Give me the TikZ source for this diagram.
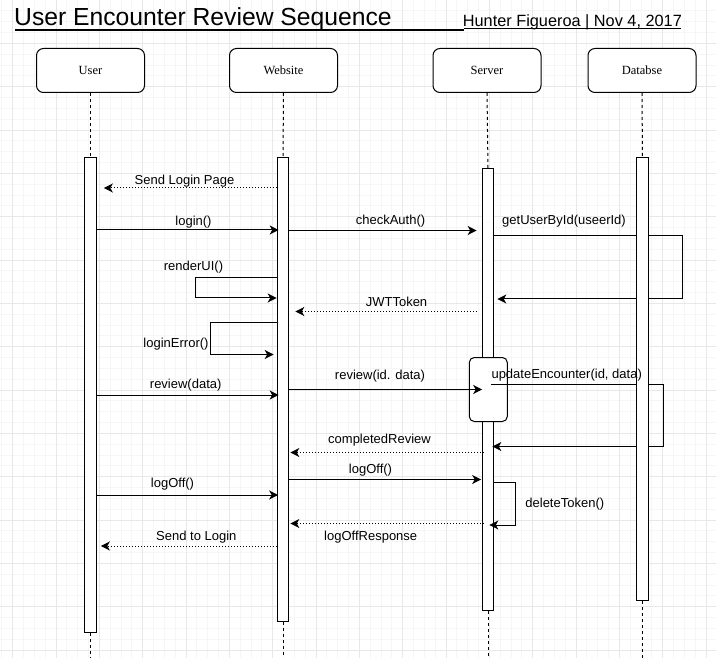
\documentclass[tikz,border=0pt]{standalone}
\usepackage{fontspec}
\setmainfont{Liberation Sans}
\newfontfamily\headfont{Liberation Serif}
\usepackage{tikz}
\usetikzlibrary{arrows.meta,positioning,calc}
\definecolor{gridminor}{RGB}{246,246,246}
\definecolor{gridmajor}{RGB}{232,232,232}

\begin{document}
\begin{tikzpicture}[
    x=1pt, y=-1pt,
    minorline/.style={draw=gridminor, line width=0.8pt},
    majorline/.style={draw=gridmajor, line width=0.8pt},
    actor/.style={rectangle, draw, rounded corners=7pt, minimum width=108pt, minimum height=44pt, fill=white, line width=1pt, font=\headfont\fontsize{12.5}{14}\selectfont},
    bar/.style={rectangle, draw, fill=white, minimum width=11.5pt, inner sep=0pt, line width=1.1pt, anchor=north},
    life/.style={line width=1pt, dash pattern=on 3pt off 3pt},
    msg/.style={-{Stealth[length=9pt,width=9pt,inset=2.5pt]}, line width=1pt},
    reply/.style={msg, dash pattern=on 1pt off 2pt},
    lbl/.style={font=\fontsize{13}{15}\selectfont, anchor=base, inner sep=0pt}
]
\useasboundingbox (0,0) rectangle (716,658);
\foreach \i in {0,...,65} {\draw[minorline] ({1.87+\i*10.833},0) -- ++(0,658);}
\foreach \i in {1,...,60} {\draw[minorline] (0,{\i*10.833}) -- ++(716,0);}
\foreach \i in {0,...,16} {\draw[majorline] ({12.7+\i*43.333},0) -- ++(0,658);}
\foreach \i in {1,...,15} {\draw[majorline] (0,{\i*43.333}) -- ++(716,0);}

\node[anchor=base west, inner sep=0pt, font=\fontsize{24.7}{28}\selectfont] (title) at (14,26) {User Encounter Review Sequence};
\node[anchor=base west, inner sep=0pt, font=\fontsize{16.3}{19}\selectfont] (sub) at (462.7,26.7) {Hunter Figueroa | Nov 4, 2017};
\draw[line width=1.6pt] (title.base west -| 15,0) ++(0,3.8) -- (464,29.8);
\draw[line width=1pt] (sub.base west -| 464,0) ++(0,2.1) -- (681,28.8);

\node[actor] (user) at (90.5,70.5) {User};
\node[actor] (web) at (283.5,70.5) {Website};
\node[actor] (srv) at (487,70.5) {Server};
\node[actor] (db) at (642,70.5) {Databse};

\node[bar, minimum height=475pt] (userbar) at (90.5,157) {};
\node[bar, minimum height=464pt] (webbar) at (283,157) {};
\node[bar, minimum height=442pt] (srvbar) at (488,168) {};

\draw[life] (user.south) -- (userbar.north);
\draw[life] (userbar.south) -- (userbar.south |- 0,658);
\draw[life] (web.south) -- (webbar.north);
\draw[life] (webbar.south) -- (webbar.south |- 0,658);
\draw[life] (srv.south) -- (srvbar.north);
\draw[life] (srvbar.south) -- (srvbar.south |- 0,658);

\node[rectangle, draw, fill=white, rounded corners=5pt, line width=1pt, minimum width=38pt, minimum height=64pt] (srvact) at (488.3,389.5) {};

\draw[msg] (srvbar.east |- 0,236) -- ++(188.5,0) |- ($(srvbar.east |- 0,299)+(3,0)$);
\draw[msg] ($(srvbar.east |- 0,384.5)+(-3,0)$) -- ++(172.5,0) |- ($(srvbar.east |- 0,446.5)+(-2,0)$);

\node[bar, minimum height=443pt] (dbbar) at (642.5,157) {};
\draw[life] (db.south) -- (dbbar.north);
\draw[life] (dbbar.south) -- (dbbar.south |- 0,658);

\node[lbl] (lgetuser) at (564,225) {getUserById(useerId)};
\node[lbl] (lupdate) at (566.7,378.5) {updateEncounter(id, data)};

\draw[reply] (webbar.west |- 0,188) -- ($(userbar.east |- 0,188)+(7,0)$);
\node[lbl] (lsendpage) at (184.5,185) {Send Login Page};

\draw[msg] (userbar.east |- 0,230) -- ($(webbar.west |- 0,230)+(2,0)$);
\node[lbl] (llogin) at (193.5,225.5) {login()};

\draw[msg] (webbar.east |- 0,230.5) -- ($(srvbar.west |- 0,230.5)+(-5,0)$);
\node[lbl] (lcheck) at (390.5,225) {checkAuth()};

\draw[msg] (webbar.west |- 0,277.5) -- ++(-81,0) |- (webbar.west |- 0,298);
\node[lbl] (lrender) at (193.5,271) {renderUI()};

\draw[reply] ($(srvbar.west |- 0,311.5)+(-5,0)$) -- ($(webbar.east |- 0,311.5)+(6,0)$);
\node[lbl] (ljwt) at (396.5,306.5) {JWTToken};

\draw[msg] (webbar.west |- 0,322.5) -- ++(-66.7,0) |- ($(webbar.west |- 0,354.5)+(-3,0)$);
\node[lbl] (lerror) at (176,347.5) {loginError()};

\draw[msg] (userbar.east |- 0,395) -- ($(webbar.west |- 0,395)+(2,0)$);
\node[lbl] (lreview) at (185.7,388.5) {review(data)};

\draw[msg] (webbar.east |- 0,389.5) -- ($(srvbar.west |- 0,389.5)+(0.5,0)$);
\node[lbl] (lreviewid) at (380,379) {review(id. data)};

\draw[reply] ($(srvbar.west |- 0,452.5)+(2,0)$) -- ($(webbar.east |- 0,452.5)+(1,0)$);
\node[lbl] (lcompleted) at (379.5,443.5) {completedReview};

\draw[msg] (webbar.east |- 0,479.5) -- ($(srvbar.west |- 0,479.5)+(-0.5,0)$);
\node[lbl] (llogoffsrv) at (370.5,473) {logOff()};

\draw[msg] (userbar.east |- 0,495) -- ($(webbar.west |- 0,495)+(1.5,0)$);
\node[lbl] (llogoffweb) at (172.5,487) {logOff()};

\draw[msg] (srvbar.east |- 0,482) -- ++(21.6,0) |- ($(srvbar.east |- 0,525)+(-5,0)$);
\node[lbl] (ldelete) at (564.8,507) {deleteToken()};

\draw[reply] ($(srvbar.west |- 0,523.5)+(2,0)$) -- ($(webbar.east |- 0,523.5)+(1,0)$);
\node[lbl] (lresponse) at (370.7,540) {logOffResponse};

\draw[reply] (webbar.west |- 0,546) -- ($(userbar.east |- 0,546)+(4,0)$);
\node[lbl] (lsendlogin) at (196.3,540) {Send to Login};
\end{tikzpicture}
\end{document}
